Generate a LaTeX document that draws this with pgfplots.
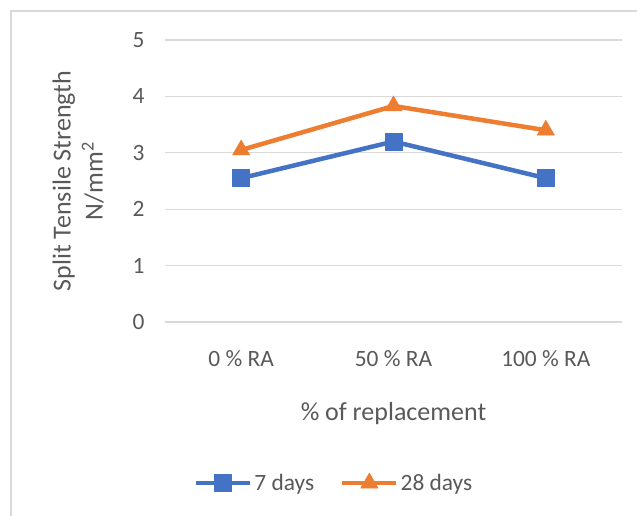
\documentclass[border=0pt]{standalone}
\usepackage{pgfplots}
\pgfplotsset{compat=1.18}
\usepackage{fontspec}
\setmainfont{Carlito}
\definecolor{cseven}{HTML}{4472C4}
\definecolor{ctwenty}{HTML}{ED7D31}
\definecolor{cgrid}{HTML}{D9D9D9}
\definecolor{ctxt}{HTML}{595959}
\begin{document}
\begin{tikzpicture}[x=1pt,y=1pt]
\useasboundingbox (0,0) rectangle (637,516);
\draw[line width=1.3pt, color=cgrid] (11,0) -- (11,505) -- (637,505);
\begin{axis}[
  at={(165pt,194pt)}, anchor=south west,
  scale only axis, width=457pt, height=282pt,
  xmin=-0.5, xmax=2.5, ymin=0, ymax=5,
  xtick={0,1,2}, xticklabels={0 \% RA, 50 \% RA, 100 \% RA},
  ytick={0,1,2,3,4,5},
  axis line style={draw=none},
  ymajorgrids, grid style={cgrid, line width=1.3pt},
  major tick length=0pt,
  tick label style={font=\fontsize{23.4}{28}\selectfont, text=ctxt},
  /pgf/number format/assume math mode=true,
  xticklabel style={yshift=-25pt},
  yticklabel style={xshift=-17pt},
  xlabel={\% of replacement},
  xlabel style={font=\fontsize{26}{32}\selectfont, text=ctxt, at={(axis description cs:0.5,-0.323)}, anchor=center},
  ylabel={Split Tensile Strength\\N/mm\textsuperscript{2}},
  ylabel style={font=\fontsize{26}{32}\selectfont, text=ctxt, align=center, at={(axis description cs:-0.19,0.5)}, anchor=center},
  legend columns=2,
  legend style={at={(axis description cs:0.370,-0.571)}, anchor=center, draw=none, fill=none,
    font=\fontsize{23.4}{28}\selectfont, text=ctxt, inner xsep=0pt,
    nodes={inner xsep=2pt},
    /tikz/every even column/.append style={column sep=24pt}},
  legend image code/.code={\draw[#1, mark repeat=2, mark phase=2] plot coordinates {(0pt,0pt) (27pt,0pt) (54pt,0pt)};},
]
\addplot[color=cseven, line width=4.5pt, line join=round, mark=square*, mark size=8.5pt, mark options={solid, fill=cseven, draw=cseven, line width=0.5pt}]
  coordinates {(0,2.55) (1,3.2) (2,2.55)};
\addlegendentry{7 days}
\addplot[color=ctwenty, line width=4.5pt, line join=round, mark=triangle*, mark size=10pt, mark options={solid, fill=ctwenty, draw=ctwenty, line width=0.5pt}]
  coordinates {(0,3.05) (1,3.83) (2,3.4)};
\addlegendentry{28 days}
\end{axis}
\end{tikzpicture}
\end{document}
